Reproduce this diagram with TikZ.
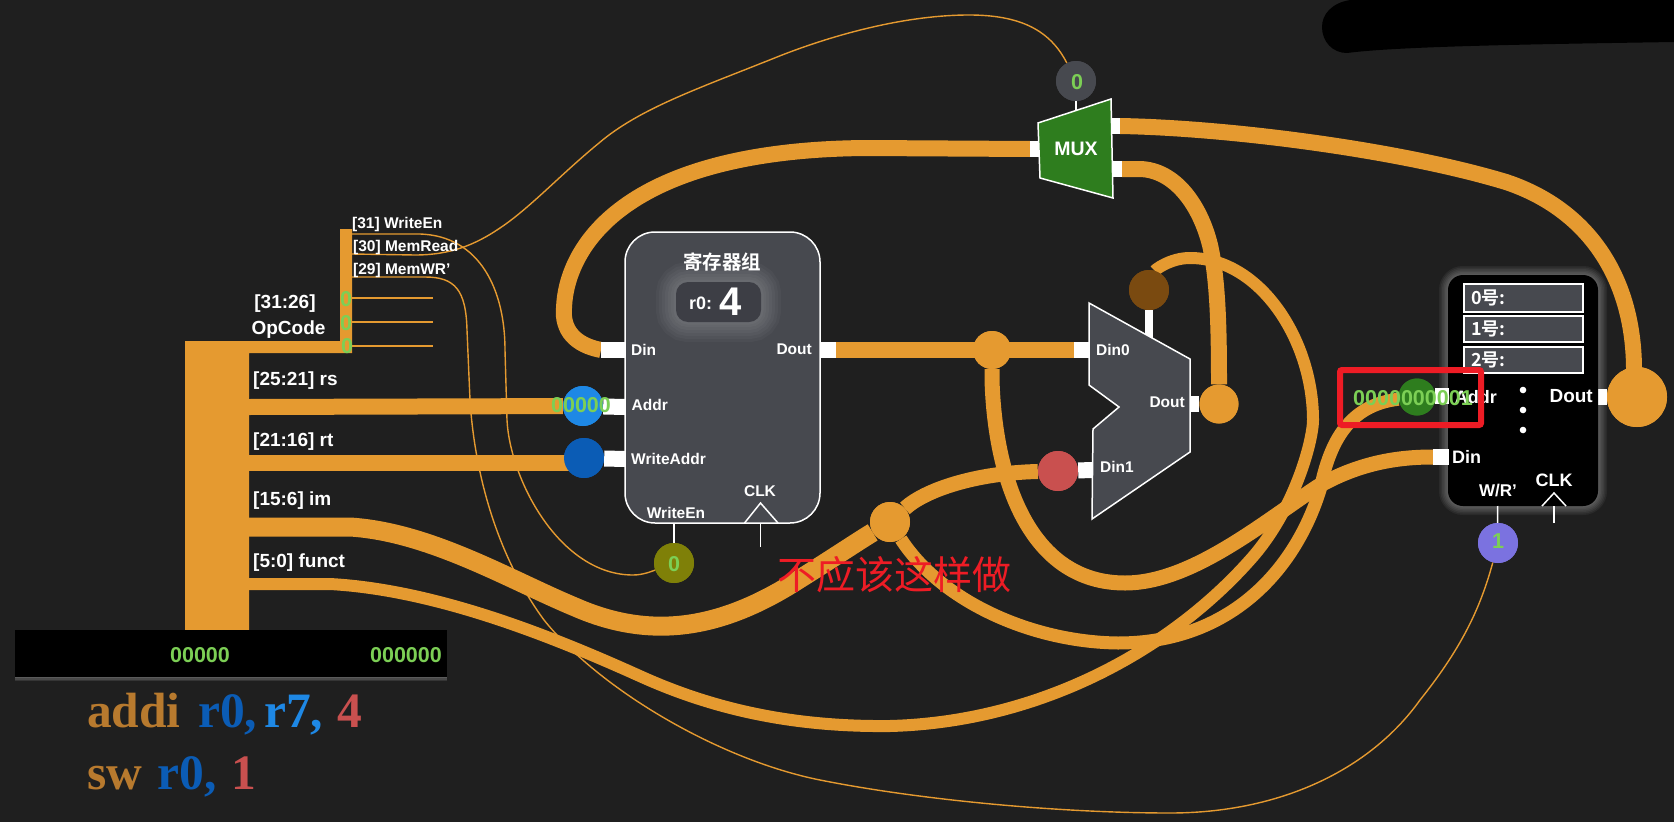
\documentclass[tikz,border=0pt]{standalone}
\usepackage{fontspec}
\setmainfont{Liberation Sans}
\newfontfamily\serifb[BoldFont=Liberation Serif Bold]{Liberation Serif}
\newfontfamily\cjkb{Noto Sans CJK SC Bold}
\newfontfamily\cjkr{Noto Sans CJK SC}
\definecolor{bgc}{HTML}{1F1F1F}
\definecolor{org}{HTML}{E59A30}
\definecolor{grn}{HTML}{7CCF55}
\definecolor{pan}{HTML}{47494F}
\definecolor{darkp}{HTML}{3D3E45}
\definecolor{redd}{HTML}{EE1C25}
\definecolor{tbrown}{HTML}{B87A2E}
\definecolor{tblue}{HTML}{0B5CB5}
\definecolor{lblue}{HTML}{1E88E5}
\definecolor{tred}{HTML}{C9504F}
\definecolor{mgrn}{HTML}{2E7D1E}
\definecolor{brn}{HTML}{7A4A10}
\definecolor{oliv}{HTML}{7F8008}
\definecolor{purp}{HTML}{7B72E0}
\tikzset{
  wire/.style={draw=org,line width=16bp,line cap=butt},
  ctrl/.style={draw=org,line width=1.4bp},
  stubw/.style={draw=white,line width=16bp},
  tick/.style={draw=white,line width=1.5bp},
  edgew/.style={draw=white,line width=1.5bp,line join=miter},
  dot/.style={circle,inner sep=0pt,minimum size=40bp,fill=#1},
  lab/.style={inner sep=0pt,text=white,font=\fontsize{15.5bp}{16bp}\selectfont\bfseries},
  lbig/.style={inner sep=0pt,text=white,font=\fontsize{19bp}{20bp}\selectfont\bfseries},
  val/.style={inner sep=0pt,text=grn,font=\fontsize{21.5bp}{22bp}\selectfont\bfseries},
  barval/.style={inner sep=0pt,text=grn,font=\fontsize{21.5bp}{22bp}\selectfont\bfseries},
  asm/.style={inner sep=0pt,anchor=base west,font=\fontsize{49.5bp}{50bp}\serifb\bfseries},
}
\begin{document}
\begin{tikzpicture}[x=1bp,y=-1bp]
\useasboundingbox (0,0) rectangle (1674,822);
\fill[bgc] (0,0) rectangle (1674,822);
% named points
\coordinate (muxIn) at (1030,149);
\coordinate (regDin) at (601,350);
\coordinate (regDinE) at (625,350);
\coordinate (regDout) at (820,350);
\coordinate (regDoutE) at (836,350);
\coordinate (m2Din0S) at (1074,350);
\coordinate (m2Din0E) at (1089,350);
\coordinate (m2Din1E) at (1093,470);
\coordinate (m2DoutS) at (1190,404);
\coordinate (muxO1) at (1111,126);
\coordinate (muxO1E) at (1120,126);
\coordinate (muxO2) at (1113,169);
\coordinate (muxO2E) at (1122,169);
\coordinate (memAddrS) at (1435,396);
\coordinate (memAddrE) at (1449,396);
\coordinate (memDinS) at (1433,457);
\coordinate (memDinE) at (1449,457);
\coordinate (memDoutS) at (1598,397);
\coordinate (oW) at (352,234);
\coordinate (oR) at (352,254);
\coordinate (oM) at (352,277);
\coordinate (busR) at (249,407);
\coordinate (busT) at (249,463);
\coordinate (busI) at (249,527);
\coordinate (busF) at (249,584);
\coordinate (regA) at (625,407);
\coordinate (regW) at (625,459);
% nodes that carry wires
\path (992,350) node[dot=org,minimum size=38bp] (jDout) {}
      (890,522) node[dot=org] (jIm) {}
      (1058,471) node[dot=tred] (nRed) {}
      (1149,290) node[dot=brn] (nBrn) {}
      (1219,404) node[dot=org,minimum size=39bp] (jM2) {}
      (1637,397) node[dot=org,minimum size=60bp] (jMem) {}
      (1417,397) node[dot=mgrn,minimum size=37bp] (nGrn) {}
      (583,406) node[dot=lblue] (nBlue) {}
      (584,458) node[dot=tblue] (nDBlue) {}
      (674,563) node[dot=oliv] (nOl) {}
      (1076,81) node[dot=pan] (nTop) {}
      (1498,543) node[dot=purp] (nPur) {};
% thin control lines
\draw[ctrl] (oW) -- (420,234) .. controls (480,236) and (505,290) .. (505,350) -- (507,420) .. controls (510,480) and (560,575) .. (633,575) .. controls (642,575) and (650,572) .. (nOl);
\draw[ctrl] (oR) -- (415,255) .. controls (450,255) and (475,245) .. (500,228) .. controls (530,208) and (560,175) .. (599,143) .. controls (640,108) and (700,88) .. (777,57) .. controls (840,32) and (910,15) .. (969,15) .. controls (1020,15) and (1050,30) .. (nTop);
\draw[ctrl] (oM) -- (425,277) .. controls (455,277) and (466,290) .. (467,330) -- (470,400) .. controls (475,480) and (500,560) .. (544,620) .. controls (600,690) and (720,760) .. (820,780) .. controls (920,800) and (1060,813) .. (1170,813) .. controls (1280,813) and (1370,770) .. (1420,700) .. controls (1460,650) and (1480,610) .. (nPur);
\draw[ctrl] (352,298) coordinate (s1) -- (433,298) coordinate (s1e);
\draw[ctrl] (352,322) coordinate (s2) -- (433,322) coordinate (s2e);
\draw[ctrl] (352,346) coordinate (s3) -- (433,346) coordinate (s3e);
% bus
\fill[org] (185,341) -- (340,341) -- (340,229) -- (352,229) -- (352,353) -- (249,353) -- (249,630) -- (185,630) -- cycle;
\draw[wire] (busR) -- (nBlue);
\draw[wire] (busT) -- (584,463);
% thick wires
\draw[wire,line width=19bp] (busI) -- (350,527) .. controls (430,532) and (510,580) .. (575,607) .. controls (650,640) and (720,630) .. (798,580) .. controls (830,560) and (860,540) .. (jIm);
\draw[wire,line width=12bp] (busF) -- (330,584) .. controls (440,590) and (560,640) .. (642,677) .. controls (720,712) and (800,727) .. (890,726) .. controls (1040,722) and (1170,650) .. (1250,560) .. controls (1295,510) and (1313,440) .. (1313,420) .. controls (1313,340) and (1260,258) .. (1190,258) .. controls (1170,258) and (1155,270) .. (nBrn);
\draw[wire] (regDin) .. controls (575,345) and (562,330) .. (564,308) .. controls (566,250) and (620,150) .. (866,148) -- (muxIn);
\draw[wire] (regDoutE) -- (m2Din0S);
\draw[wire,line width=15bp] (jDout) -- (992,380) .. controls (995,480) and (1030,583) .. (1125,583) .. controls (1190,583) and (1260,525) .. (1317,487) .. controls (1360,462) and (1400,457) .. (memDinS);
\draw[wire,line width=15bp] (jIm) .. controls (925,490) and (975,473) .. (nRed);
\draw[wire,line width=13bp] (jIm) .. controls (940,600) and (1030,642) .. (1118,643) .. controls (1230,643) and (1295,570) .. (1320,490) .. controls (1330,440) and (1350,405) .. (nGrn);
\draw[wire] (muxO1E) .. controls (1230,128) and (1400,150) .. (1506,182) .. controls (1590,210) and (1634,280) .. (1634,370);
\draw[wire] (muxO2E) -- (1140,169) .. controls (1175,170) and (1200,205) .. (1210,245) .. controls (1218,280) and (1219,330) .. (jM2);
% stubs
\draw[stubw] (regDin) -- (regDinE);
\draw[stubw] (regDout) -- (regDoutE);
\draw[stubw] (m2Din0S) -- (m2Din0E);
\draw[stubw] (nRed) -- (m2Din1E);
\draw[stubw] (m2DoutS) -- (jM2);
\draw[stubw] (nBlue) -- (regA);
\draw[stubw] (nDBlue) -- (regW);
\draw[stubw,line width=8bp] (nBrn) -- (1149,340) coordinate (m2Top);
\draw[stubw] (muxIn) -- (1039,149);
\draw[stubw] (muxO1) -- (muxO1E);
\draw[stubw] (muxO2) -- (muxO2E);
\draw[stubw] (memAddrS) -- (memAddrE);
\draw[stubw] (memDinS) -- (memDinE);
\draw[stubw] (memDoutS) -- (jMem);
% circles on top
\path (992,350) node[dot=org,minimum size=38bp] {}
      (890,522) node[dot=org] {}
      (1058,471) node[dot=tred] {}
      (1149,290) node[dot=brn] {}
      (1219,404) node[dot=org,minimum size=39bp] {}
      (1637,397) node[dot=org,minimum size=60bp] {}
      (1417,397) node[dot=mgrn,minimum size=37bp] {}
      (583,406) node[dot=lblue] {}
      (584,458) node[dot=tblue] {};
% register block
\node[draw=white,line width=1.5bp,fill=pan,rounded corners=30bp,minimum width=195bp,minimum height=291bp,inner sep=0pt] (reg) at (722.5,377.5) {};
\foreach \w in {40,34,28,22,16,10,5}
  \draw[white,opacity=.03,line width=\w bp,rounded corners=12bp] (676,282) rectangle (761,322);
\node[fill=darkp,rounded corners=12bp,minimum width=85bp,minimum height=40bp,inner sep=0pt] (r0p) at (718.5,302) {};
\node[lbig,font=\fontsize{19.5bp}{20bp}\cjkb] (regT) at (722,262) {寄存器组};
\node[inner sep=0pt,text=white,anchor=base west,font=\fontsize{18bp}{20bp}\selectfont\bfseries] (r0n) at (689,309) {r0:};
\node[inner sep=0pt,text=white,anchor=base west,font=\fontsize{40bp}{40bp}\selectfont\bfseries] (r0v) at (719,315) {4};
\node[lab,anchor=west] (tDin) at (631,350) {Din};
\node[lab,anchor=east] (tDout) at (812,349) {Dout};
\node[lab,anchor=west] (tAddr) at (631.5,405) {Addr};
\node[lab,anchor=west] (tWA) at (631,459) {WriteAddr};
\node[lab] (tWE) at (676,513) {WriteEn};
\node[lab] (tCLK) at (760,491) {CLK};
\draw[edgew] (744.5,523) -- (760.5,503) -- (778,523);
\draw[tick] (reg.south -| nOl) -- (nOl);
\draw[tick] (760.5,523) -- (760.5,547) coordinate (clkA);
% second mux
\draw[edgew,fill=pan] (1089,303) coordinate (m2a) -- (1190,359) -- (1190,452) -- (1092,519) -- (1093,429) -- (1119,407) -- (1089,385) -- cycle;
\node[lab,anchor=west] (t20) at (1096,350) {Din0};
\node[lab,anchor=west] (t21) at (1100,467) {Din1};
\node[lab,anchor=east] (t2o) at (1185,402) {Dout};
% top mux
\draw[tick] (nTop) -- (1076,112);
\path (1076,81) node[dot=pan] {};
\draw[edgew,fill=mgrn] (1038,123) coordinate (mxa) -- (1111,99) -- (1113,198) -- (1040,178) -- cycle;
\node[lbig,font=\fontsize{19.5bp}{20bp}\selectfont\bfseries] (tMux) at (1076,149) {MUX};
% memory block
\foreach \w in {18,15,12,9,6,3}
  \draw[white,opacity=.05,line width=\w bp,rounded corners=15bp] (1448,275) rectangle (1598,506);
\node[fill=black,rounded corners=15bp,minimum width=150bp,minimum height=231bp,inner sep=0pt] (mem) at (1523,390.5) {};
\foreach \n/\yt/\yb/\ty/\lbl in {a/284/312/298/0号:,b/316/342/329/1号:,c/347/373/360/2号:}{
  \draw[white,line width=1.4bp,fill=pan] (1464,\yt) rectangle (1583,\yb);
  \node[inner sep=0pt,text=white,anchor=west,font=\fontsize{18bp}{20bp}\cjkb] (row\n) at (1471,\ty) {\lbl};
}
\draw[stubw] (memAddrS) -- (memAddrE);
\draw[stubw] (memDinS) -- (memDinE);
\node[lbig,anchor=east,font=\fontsize{18bp}{20bp}\selectfont\bfseries] (mA) at (1497,397) {Addr};
\node[lbig,anchor=east,font=\fontsize{19bp}{20bp}\selectfont\bfseries] (mD) at (1593,396) {Dout};
\node[lbig,anchor=west,font=\fontsize{18bp}{20bp}\selectfont\bfseries] (mI) at (1452,457) {Din};
\node[lbig,font=\fontsize{17bp}{20bp}\selectfont\bfseries] (mW) at (1498,491) {W/R’};
\node[lbig,font=\fontsize{18bp}{20bp}\selectfont\bfseries] (mC) at (1554,480) {CLK};
\draw[edgew] (1542,506) -- (1554,493) -- (1566,506);
\draw[tick] (1497.5,506) -- (nPur);
\draw[tick] (1554,506) -- (1554,523) coordinate (mclk);
\foreach \yy in {390,410,430} \fill[white] (1523,\yy) circle (3.3bp);
\path (1498,543) node[dot=purp] {};
\path (674,563) node[dot=oliv] {};
% left labels
\node[lab,anchor=west] (l31) at (352,224) {[31] WriteEn};
\node[lab,anchor=west] (l30) at (353,247.5) {[30] MemRead};
\node[lab,anchor=west] (l29) at (353,270.5) {[29] MemWR’};
\node[lbig] (lop1) at (285,304) {[31:26]};
\node[lbig] (lop2) at (288.5,329.5) {OpCode};
\node[lbig,anchor=west] (lrs) at (253,380.5) {[25:21] rs};
\node[lbig,anchor=west] (lrt) at (253,442) {[21:16] rt};
\node[lbig,anchor=west] (lim) at (253,500.5) {[15:6] im};
\node[lbig,anchor=west] (lfn) at (253,563) {[5:0] funct};
% black bar
\foreach \w in {8,5,2}
  \draw[white,opacity=.1,line width=\w bp] (15,677) -- (447,677);
\fill[black] (15,630) rectangle (447,677);
\node[barval] (v1) at (200,655) {00000};
\node[barval] (v2) at (406,655) {000000};
% assembly
\node[asm] (as1) at (87,727) {\textcolor{tbrown}{addi} \hspace{5bp}\textcolor{tblue}{r0,}\hspace{7bp}\textcolor{lblue}{r7,} \hspace{1.5bp}\textcolor{tred}{4}};
\node[asm] (as2) at (87,789) {\textcolor{tbrown}{sw} \hspace{3bp}\textcolor{tblue}{r0,} \hspace{2.5bp}\textcolor{tred}{1}};
% green values
\node[val] (z1) at (346,299) {0};
\node[val] (z2) at (346,323) {0};
\node[val] (z3) at (347,346) {0};
\node[val] (zA) at (581,405) {00000};
\node[val] (zO) at (674,564) {0};
\node[val] (zT) at (1077,82) {0};
\node[val] (zP) at (1498,541) {1};
\node[val,anchor=west] (zG) at (1353,398) {0000000001};
% red annotation
\draw[redd,line width=6bp,rounded corners=2bp] (1340,370) rectangle (1481,425);
\node[inner sep=0pt,text=redd,font=\fontsize{39bp}{40bp}\cjkr] (note) at (894,575) {不应该这样做};
% black scribble
\fill[black] (1674,0) -- (1350,0) .. controls (1332,3) and (1322,14) .. (1322,27) .. controls (1322,42) and (1333,53) .. (1347,53) .. controls (1400,46) and (1550,44) .. (1674,42) -- cycle;
\end{tikzpicture}
\end{document}
